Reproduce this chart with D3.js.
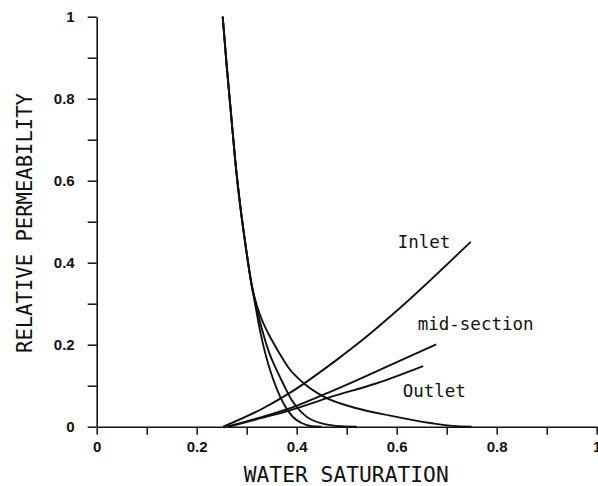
<!DOCTYPE html>
<html>
<head>
<meta charset="utf-8">
<script src="https://cdn.jsdelivr.net/npm/d3@7"></script>
<style>
  html, body { margin: 0; padding: 0; background: #fff; }
  svg { display: block; }
</style>
</head>
<body>
<svg id="chart" width="598" height="486"></svg>
<script>
// Relative permeability vs water saturation, for three positions along the core.

// Oil curves: shared steep upper branch, then three tails.
const oilShared = [[0.252, 1.0], [0.26, 0.88], [0.268, 0.772], [0.277, 0.65], [0.285, 0.56], [0.298, 0.44], [0.31, 0.345]];
const oilInner  = [[0.317, 0.298], [0.327, 0.232], [0.337, 0.18], [0.347, 0.137], [0.36, 0.093], [0.373, 0.058], [0.393, 0.023], [0.41, 0.009], [0.43, 0.001], [0.45, 0.0]];
const oilMiddle = [[0.32, 0.29], [0.33, 0.24], [0.345, 0.18], [0.36, 0.138], [0.375, 0.1], [0.39, 0.065], [0.417, 0.027], [0.45, 0.008], [0.49, 0.001], [0.52, 0.0]];
const oilOuter  = [[0.32, 0.297], [0.33, 0.262], [0.35, 0.212], [0.365, 0.18], [0.383, 0.145], [0.417, 0.103], [0.453, 0.074], [0.52, 0.045], [0.587, 0.027], [0.667, 0.009], [0.72, 0.001], [0.75, 0.0]];

// Water curves, one per position.
const waterInlet  = [[0.253, 0.0], [0.333, 0.045], [0.387, 0.083], [0.48, 0.163], [0.53, 0.21], [0.607, 0.29], [0.748, 0.451]];
const waterMid    = [[0.26, 0.0], [0.32, 0.02], [0.387, 0.045], [0.467, 0.085], [0.587, 0.15], [0.679, 0.201]];
const waterOutlet = [[0.265, 0.0], [0.32, 0.018], [0.387, 0.04], [0.467, 0.072], [0.56, 0.106], [0.653, 0.148]];

const curveLabels = [
  { text: "Inlet",       x: 0.602, y: 0.435 },
  { text: "mid-section", x: 0.642, y: 0.235 },
  { text: "Outlet",      x: 0.612, y: 0.073 }
];

const tickValues = d3.range(0, 11).map(i => i / 10);
const tickLabel = v => (Math.round(v * 10) % 2 === 0) ? (v === 0 ? "0" : v === 1 ? "1" : v.toFixed(1)) : "";

const svg = d3.select("#chart");
const ink = "#111";

const x = d3.scaleLinear().domain([0, 1]).range([96.7, 596.7]);
const y = d3.scaleLinear().domain([0, 1]).range([426.7, 16.7]);

// Axes
const gx = svg.append("g")
  .attr("transform", `translate(0,${y(0)})`)
  .call(d3.axisBottom(x).tickValues(tickValues).tickFormat(tickLabel)
    .tickSize(8).tickSizeOuter(0).tickPadding(7));

const gy = svg.append("g")
  .attr("transform", `translate(${x(0)},0)`)
  .call(d3.axisLeft(y).tickValues(tickValues).tickFormat(tickLabel)
    .tickSize(9).tickSizeOuter(0).tickPadding(13));

[gx, gy].forEach(g => {
  g.select(".domain").attr("stroke", ink).attr("stroke-width", 1.6);
  g.selectAll(".tick line").attr("stroke", ink).attr("stroke-width", 1.5);
  g.selectAll(".tick text")
    .attr("fill", ink)
    .style("font-family", "'Liberation Sans', Arial, sans-serif")
    .style("font-weight", "bold")
    .style("font-size", "15px");
});

// Curves
const line = d3.line()
  .x(d => x(d[0]))
  .y(d => y(d[1]))
  .curve(d3.curveMonotoneX);

const series = [
  oilShared.concat(oilInner),
  oilShared.concat(oilMiddle),
  oilShared.concat(oilOuter),
  waterInlet,
  waterMid,
  waterOutlet
];

svg.append("g")
  .selectAll("path")
  .data(series)
  .join("path")
  .attr("d", line)
  .attr("fill", "none")
  .attr("stroke", ink)
  .attr("stroke-width", 1.9)
  .attr("stroke-linejoin", "round");

// Curve labels
svg.append("g")
  .selectAll("text")
  .data(curveLabels)
  .join("text")
  .attr("x", d => x(d.x))
  .attr("y", d => y(d.y))
  .text(d => d.text)
  .attr("fill", ink)
  .style("font-family", "'DejaVu Sans Mono', monospace")
  .style("font-size", "17.5px");

// Axis titles
svg.append("text")
  .attr("x", (x(0) + x(1)) / 2 - 0.5)
  .attr("y", 482)
  .attr("text-anchor", "middle")
  .attr("textLength", 205)
  .attr("lengthAdjust", "spacingAndGlyphs")
  .attr("fill", ink)
  .style("font-family", "'DejaVu Sans Mono', monospace")
  .style("font-size", "22px")
  .text("WATER SATURATION");

svg.append("text")
  .attr("transform", "translate(32,223) rotate(-90)")
  .attr("text-anchor", "middle")
  .attr("textLength", 260)
  .attr("lengthAdjust", "spacingAndGlyphs")
  .attr("fill", ink)
  .style("font-family", "'DejaVu Sans Mono', monospace")
  .style("font-size", "22px")
  .text("RELATIVE PERMEABILITY");
</script>
</body>
</html>
